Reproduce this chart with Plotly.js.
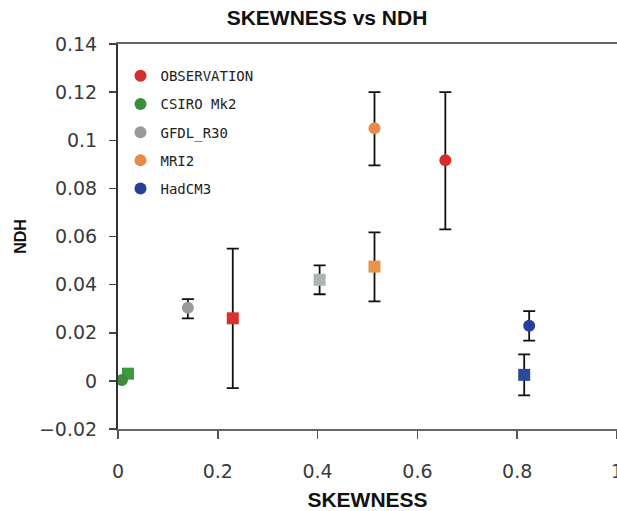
<!DOCTYPE html>
<html>
<head>
<meta charset="utf-8">
<script src="https://cdn.plot.ly/plotly-3.0.1.min.js"></script>
<style>html,body{margin:0;padding:0;background:#fff;}#chart{width:617px;height:511px;}</style>
</head>
<body>
<div id="chart"></div>
<script>
var models = ['OBSERVATION', 'CSIRO Mk2', 'GFDL_R30', 'MRI2', 'HadCM3'];
// circle markers
var circleX = [0.656, 0.008, 0.14, 0.514, 0.824];
var circleY = [0.0917, 0.0004, 0.0304, 0.105, 0.0229];
var circleHi = [0.120, null, 0.034, 0.120, 0.029];
var circleLo = [0.063, null, 0.026, 0.0896, 0.0167];
// square markers
var squareX = [0.23, 0.02, 0.404, 0.514, 0.814];
var squareY = [0.026, 0.003, 0.042, 0.0475, 0.0025];
var squareHi = [0.055, null, 0.048, 0.0617, 0.011];
var squareLo = [-0.003, null, 0.036, 0.033, -0.006];
var circleColors = ['#d92b2b', '#3c8c3c', '#9a9a9a', '#e88a48', '#2a3d9a'];
var squareColors = ['#d93030', '#3c9a3c', '#a8b6b6', '#e8924a', '#2a4a9a'];

var traces = [];
function errObj(y, hi, lo) {
  if (hi === null) return {visible: false};
  return {type: 'data', symmetric: false, array: [hi - y], arrayminus: [y - lo],
          color: '#111', thickness: 1.8, width: 6};
}
for (var i = 0; i < models.length; i++) {
  traces.push({
    type: 'scatter', mode: 'markers', name: models[i], legendgroup: 'g' + i,
    x: [squareX[i]], y: [squareY[i]], showlegend: false,
    marker: {symbol: 'square', size: 12, color: squareColors[i]},
    error_y: errObj(squareY[i], squareHi[i], squareLo[i])
  });
}
for (var i = 0; i < models.length; i++) {
  traces.push({
    type: 'scatter', mode: 'markers', name: models[i], legendgroup: 'g' + i,
    x: [circleX[i]], y: [circleY[i]],
    marker: {symbol: 'circle', size: 12, color: circleColors[i]},
    error_y: errObj(circleY[i], circleHi[i], circleLo[i])
  });
}

var layout = {
  width: 617, height: 511,
  margin: {l: 118, r: 0, t: 44, b: 82},
  paper_bgcolor: '#fff', plot_bgcolor: '#fff',
  title: {text: 'SKEWNESS vs NDH', font: {family: 'Liberation Sans', size: 21, color: '#111', weight: 'bold'},
          x: 0.53, xanchor: 'center', y: 0.966, yanchor: 'middle'},
  xaxis: {
    range: [0, 1], tickvals: [0, 0.2, 0.4, 0.6, 0.8, 1], ticktext: ['0', '0.2', '0.4', '0.6', '0.8', '1'],
    showgrid: false, zeroline: false, showline: true, mirror: true, linecolor: '#666', linewidth: 2,
    ticks: 'outside', ticklen: 8, tickcolor: '#555', tickwidth: 1.5, ticklabelstandoff: 16,
    ticklabeloverflow: 'allow',
    tickfont: {family: 'DejaVu Sans', size: 19, color: '#3a3a3a'},
    title: {text: 'SKEWNESS', font: {family: 'Liberation Sans', size: 21, color: '#111', weight: 'bold'}, standoff: 12}
  },
  yaxis: {
    range: [-0.02, 0.14], tickvals: [-0.02, 0, 0.02, 0.04, 0.06, 0.08, 0.1, 0.12, 0.14],
    ticktext: ['\u22120.02', '0', '0.02', '0.04', '0.06', '0.08', '0.1', '0.12', '0.14'],
    showgrid: false, zeroline: false, showline: true, linecolor: '#333', linewidth: 2,
    ticks: 'outside', ticklen: 7, tickcolor: '#444', tickwidth: 1.5, ticklabelstandoff: 8,
    tickfont: {family: 'DejaVu Sans', size: 19, color: '#3a3a3a'},
    title: {text: 'NDH', font: {family: 'Liberation Sans', size: 16, color: '#111', weight: 'bold'}, standoff: 8}
  },
  legend: {x: 0.005, y: 0.958, xanchor: 'left', yanchor: 'top', bgcolor: 'rgba(0,0,0,0)',
           font: {family: 'DejaVu Sans Mono', size: 14, color: '#222'}, tracegroupgap: 7,
           traceorder: 'grouped'},
  showlegend: true
};
Plotly.newPlot('chart', traces, layout, {displayModeBar: false, staticPlot: true});
</script>
</body>
</html>
